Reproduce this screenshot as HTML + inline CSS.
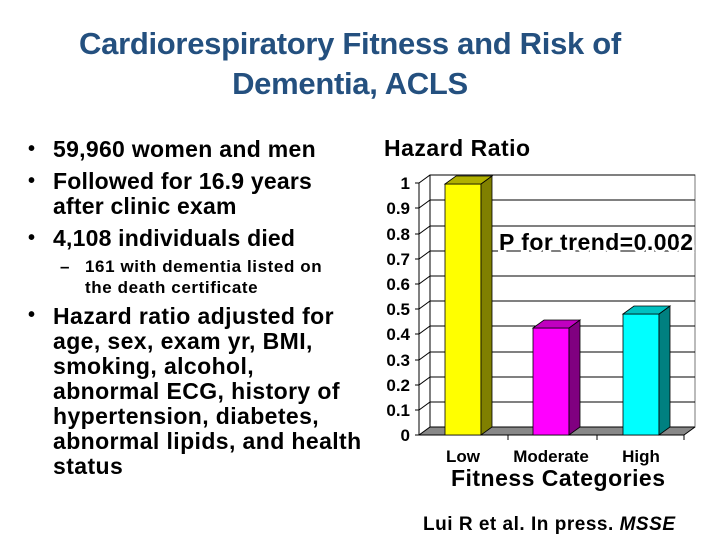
<!DOCTYPE html>
<html><head><meta charset="utf-8"><style>
body{margin:0;width:720px;height:540px;background:#fff;overflow:hidden;position:relative;font-family:"Liberation Sans",Arial,sans-serif}
.t{position:absolute;left:0;width:700px;text-align:center;color:#24507f;font-weight:bold;font-size:31px;letter-spacing:-0.3px}
.b{position:absolute;font-weight:bold;font-size:23px;color:#000;line-height:25px;white-space:nowrap;letter-spacing:0.2px}
.d{position:absolute;font-weight:bold;font-size:20px}
</style></head><body>
<div class="t" style="top:26px">Cardiorespiratory Fitness and Risk of</div>
<div class="t" style="top:66px">Dementia, ACLS</div>

<div class="d" style="left:28px;top:138px">•</div>
<div class="b" style="left:53px;top:137px;letter-spacing:0.3px">59,960 women and men</div>
<div class="d" style="left:28px;top:170px">•</div>
<div class="b" style="left:53px;top:169px">Followed for 16.9 years<br>after clinic exam</div>
<div class="d" style="left:28px;top:227px">•</div>
<div class="b" style="left:53px;top:226px">4,108 individuals died</div>
<div class="b" style="left:60px;top:256px;font-size:17px;line-height:21px">–</div>
<div class="b" style="left:85px;top:256px;font-size:17px;line-height:21px;letter-spacing:0.6px">161 with dementia listed on<br>the death certificate</div>
<div class="d" style="left:28px;top:304px">•</div>
<div class="b" style="left:53px;top:304px;letter-spacing:0.4px">Hazard ratio adjusted for<br>age, sex, exam yr, BMI,<br>smoking, alcohol,<br>abnormal ECG, history of<br>hypertension, diabetes,<br>abnormal lipids, and health<br>status</div>

<div class="b" style="left:384px;top:136px;font-size:23px;letter-spacing:0.5px">Hazard Ratio</div>

<svg width="720" height="540" style="position:absolute;left:0;top:0" font-family="Liberation Sans, Arial, sans-serif" font-weight="bold">
<rect x="430" y="175" width="265" height="252" fill="#fff" stroke="#777" stroke-width="1"/>
<polygon points="419,435 430,427 695,427 684,435" fill="#888"/>
<g stroke="#000" stroke-width="1">
<line x1="419" y1="183" x2="419" y2="435"/>
<line x1="430" y1="175" x2="430" y2="427"/>
<line x1="419" y1="435" x2="684" y2="435"/>
</g>
<g stroke="#000" stroke-width="1" fill="none">
<polyline points="415,435 419,435 430,427 695,427"/>
<polyline points="415,410 419,410 430,402 695,402"/>
<polyline points="415,385 419,385 430,377 695,377"/>
<polyline points="415,360 419,360 430,352 695,352"/>
<polyline points="415,334 419,334 430,326 695,326"/>
<polyline points="415,309 419,309 430,301 695,301"/>
<polyline points="415,284 419,284 430,276 695,276"/>
<polyline points="415,259 419,259 430,251 695,251"/>
<polyline points="415,234 419,234 430,226 695,226"/>
<polyline points="415,208 419,208 430,200 695,200"/>
<polyline points="415,183 419,183 430,175 695,175"/>
<line x1="508" y1="435" x2="508" y2="440"/>
<line x1="597" y1="435" x2="597" y2="440"/>
<line x1="684" y1="435" x2="684" y2="440"/>
<line x1="684" y1="435" x2="695" y2="427"/>
</g>
<g font-size="17" text-anchor="end">
<text x="410" y="441">0</text><text x="410" y="416">0.1</text><text x="410" y="391">0.2</text>
<text x="410" y="366">0.3</text><text x="410" y="340">0.4</text><text x="410" y="315">0.5</text>
<text x="410" y="290">0.6</text><text x="410" y="265">0.7</text><text x="410" y="240">0.8</text>
<text x="410" y="214">0.9</text><text x="410" y="189">1</text>
</g>
<text x="499" y="250" font-size="23" stroke="#fff" stroke-width="5" paint-order="stroke" textLength="194">P for trend=0.002</text>
<g stroke="#000" stroke-width="0.8">
<rect x="445" y="184" width="36" height="251" fill="#ffff00"/>
<polygon points="481,184 492,176 492,427 481,435" fill="#808000"/>
<polygon points="445,184 456,176 492,176 481,184" fill="#b0b000"/>
<rect x="533" y="328" width="36" height="107" fill="#ff00ff"/>
<polygon points="569,328 580,320 580,427 569,435" fill="#800080"/>
<polygon points="533,328 544,320 580,320 569,328" fill="#c000c0"/>
<rect x="623" y="314" width="36" height="121" fill="#00ffff"/>
<polygon points="659,314 670,306 670,427 659,435" fill="#008080"/>
<polygon points="623,314 634,306 670,306 659,314" fill="#00c0c0"/>
</g>
<g font-size="17" text-anchor="middle">
<text x="463" y="462">Low</text><text x="551" y="462">Moderate</text><text x="641" y="462">High</text>
</g>
<text x="451" y="486" font-size="23" textLength="214">Fitness Categories</text>
<text x="423" y="530" font-size="19" textLength="252">Lui R et al. In press. <tspan font-style="italic">MSSE</tspan></text>
</svg>
</body></html>
